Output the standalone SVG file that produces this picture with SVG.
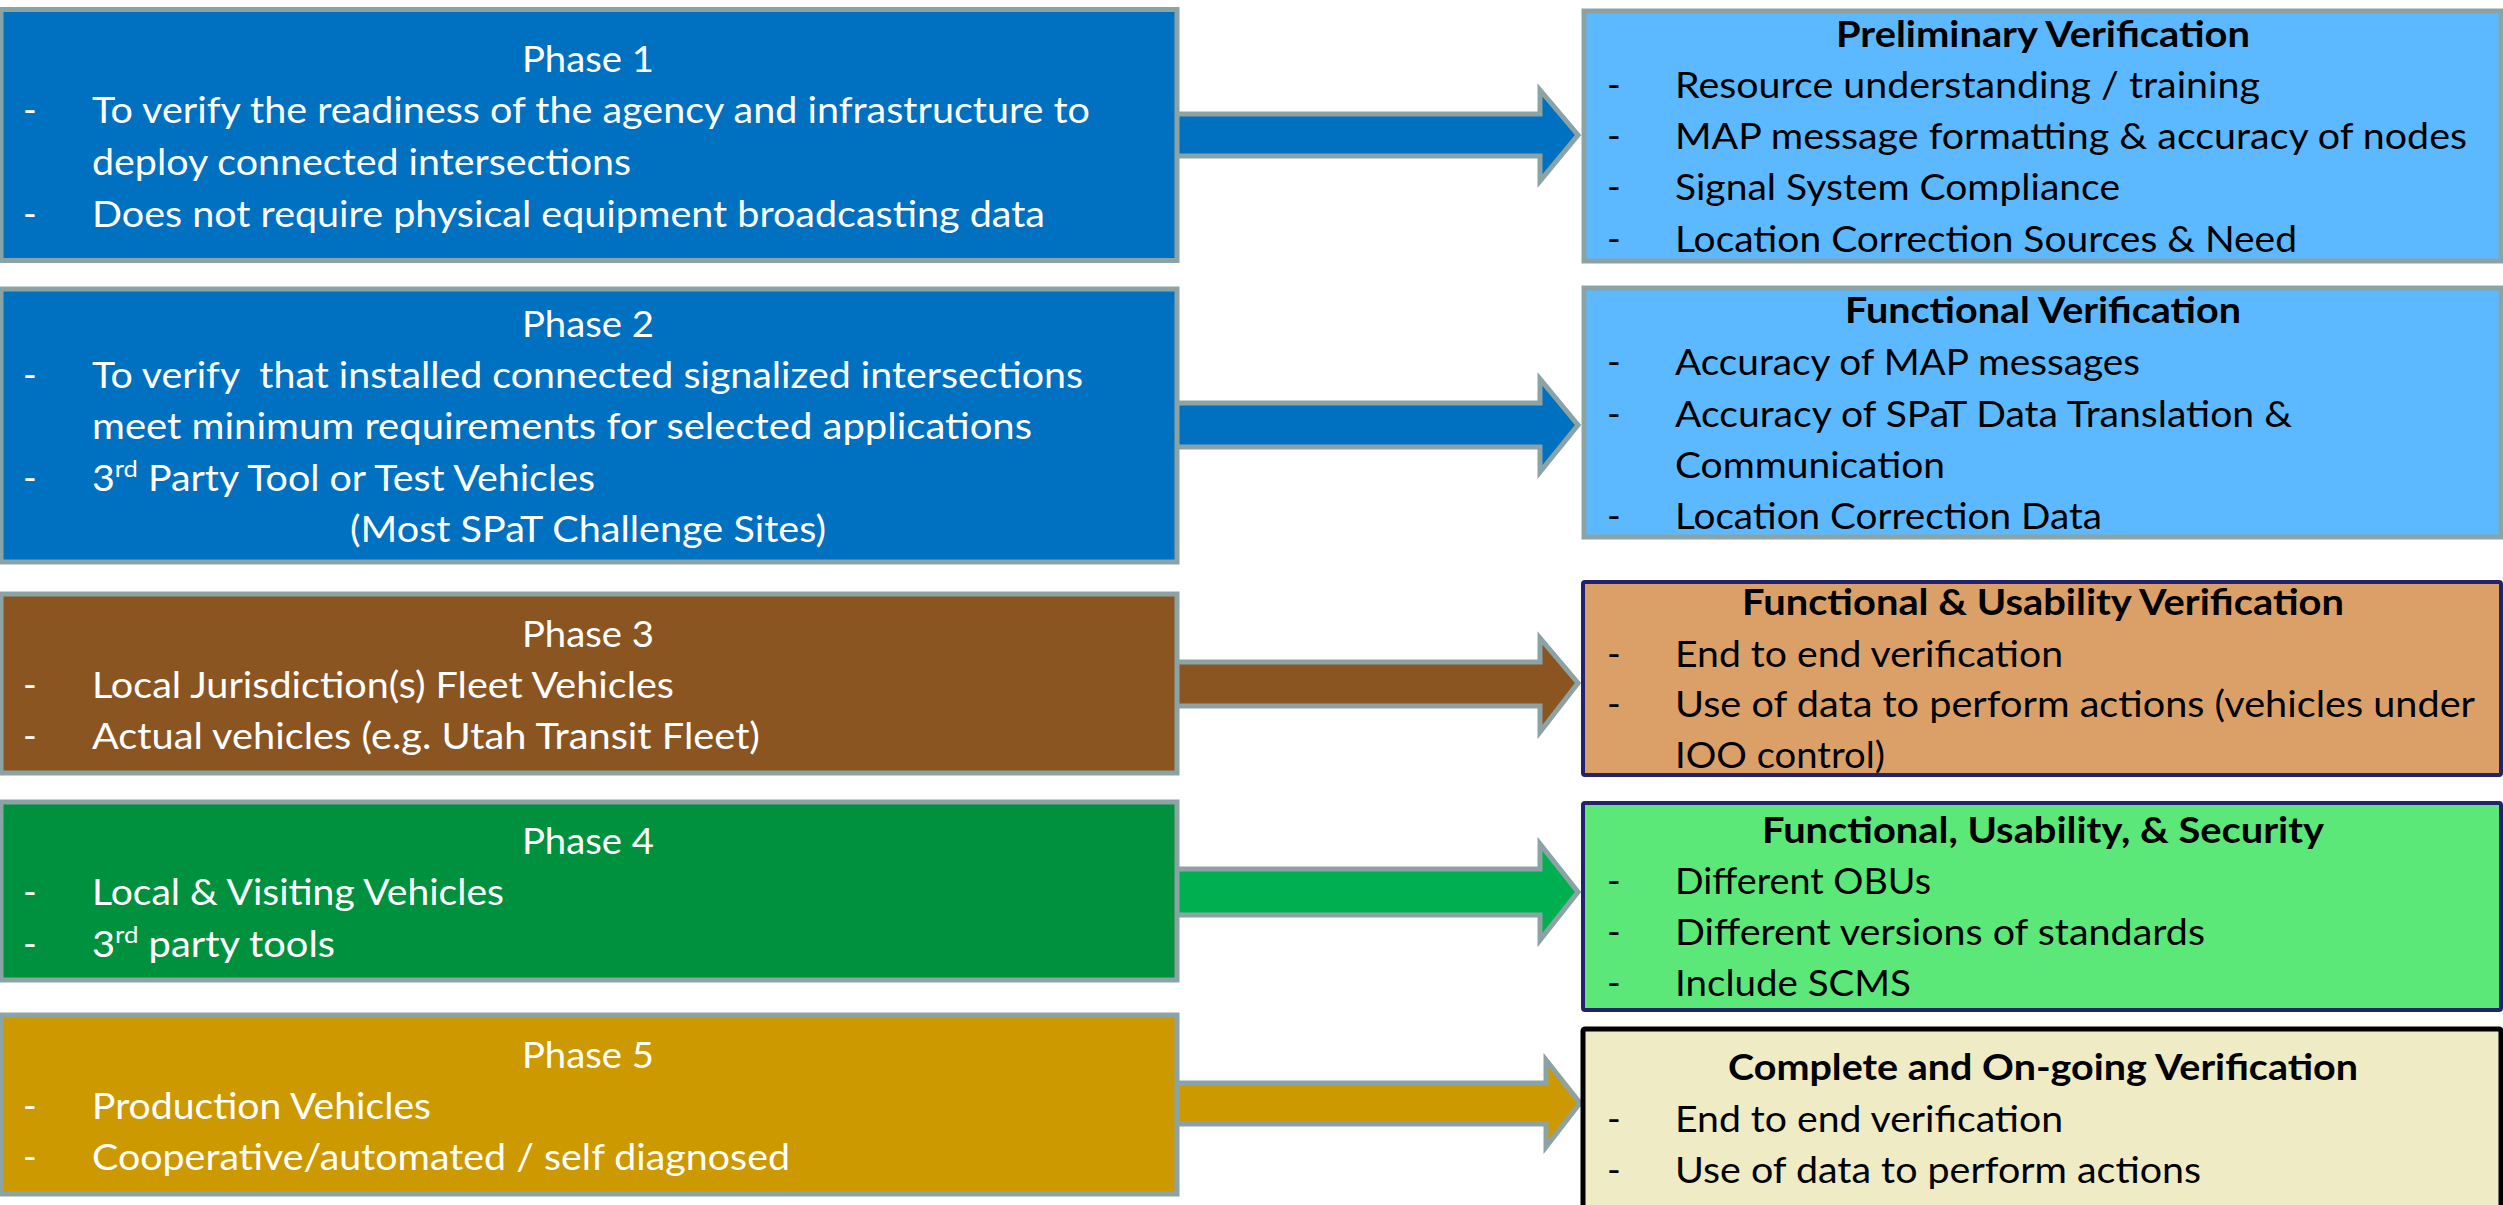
<svg xmlns="http://www.w3.org/2000/svg" width="2503" height="1205" viewBox="0 0 2503 1205">
<style>
text{font-family:Lato,"Liberation Sans",sans-serif;font-size:37px}
.w{fill:#fff}
.k{fill:#000}
.t{font-weight:bold}
.c{text-anchor:middle}
.lb{stroke:#8CA3A5;stroke-width:5}
.arr{stroke:#8CA3A5;stroke-width:5;stroke-linejoin:miter}
</style>
<rect width="2503" height="1205" fill="#fff"/>
<g id="connectors">
<polygon class="arr" fill="#0070C0" points="1170,114 1540,114 1540,90 1578,135 1540,181 1540,156 1170,156"/>
<polygon class="arr" fill="#0070C0" points="1170,403 1540,403 1540,379 1578,425 1540,472 1540,447 1170,447"/>
<polygon class="arr" fill="#8B5522" points="1170,662 1540,662 1540,638 1578,683 1540,732 1540,706 1170,706"/>
<polygon class="arr" fill="#00B050" points="1170,869 1540,869 1540,844 1578,892 1540,940 1540,915 1170,915"/>
<polygon class="arr" fill="#CC9900" points="1170,1083 1546,1083 1546,1060 1580,1103 1546,1147 1546,1124 1170,1124"/>
</g>
<g id="phase1">
<rect class="lb" x="1" y="9.5" width="1176" height="251" fill="#0070C0"/>
<text class="w c" x="588" y="72" textLength="132" lengthAdjust="spacingAndGlyphs">Phase 1</text>
<text class="w" x="23" y="123">-</text>
<text class="w" x="92" y="123" textLength="998" lengthAdjust="spacingAndGlyphs">To verify the readiness of the agency and infrastructure to</text>
<text class="w" x="92" y="175" textLength="539" lengthAdjust="spacingAndGlyphs">deploy connected intersections</text>
<text class="w" x="23" y="227">-</text>
<text class="w" x="92" y="227" textLength="953" lengthAdjust="spacingAndGlyphs">Does not require physical equipment broadcasting data</text>
</g>
<g id="phase2">
<rect class="lb" x="1" y="289" width="1176" height="273" fill="#0070C0"/>
<text class="w c" x="588" y="337" textLength="132" lengthAdjust="spacingAndGlyphs">Phase 2</text>
<text class="w" x="23" y="388">-</text>
<text class="w" x="92" y="388" style="white-space:pre" textLength="991" lengthAdjust="spacingAndGlyphs">To verify  that installed connected signalized intersections</text>
<text class="w" x="92" y="439" textLength="940" lengthAdjust="spacingAndGlyphs">meet minimum requirements for selected applications</text>
<text class="w" x="23" y="491">-</text>
<text class="w" x="92" y="491" textLength="503" lengthAdjust="spacingAndGlyphs">3<tspan font-size="24" dy="-14">rd</tspan><tspan dy="14"> Party Tool or Test Vehicles</tspan></text>
<text class="w c" x="588" y="542" textLength="476" lengthAdjust="spacingAndGlyphs">(Most SPaT Challenge Sites)</text>
</g>
<g id="phase3">
<rect class="lb" x="1" y="594" width="1176" height="179" fill="#8B5522"/>
<text class="w c" x="588" y="647" textLength="132" lengthAdjust="spacingAndGlyphs">Phase 3</text>
<text class="w" x="23" y="698">-</text>
<text class="w" x="92" y="698" textLength="582" lengthAdjust="spacingAndGlyphs">Local Jurisdiction(s) Fleet Vehicles</text>
<text class="w" x="23" y="749">-</text>
<text class="w" x="92" y="749" textLength="668" lengthAdjust="spacingAndGlyphs">Actual vehicles (e.g. Utah Transit Fleet)</text>
</g>
<g id="phase4">
<rect class="lb" x="1" y="802" width="1176" height="178" fill="#00913F"/>
<text class="w c" x="588" y="854" textLength="132" lengthAdjust="spacingAndGlyphs">Phase 4</text>
<text class="w" x="23" y="905">-</text>
<text class="w" x="92" y="905" textLength="412" lengthAdjust="spacingAndGlyphs">Local &amp; Visiting Vehicles</text>
<text class="w" x="23" y="957">-</text>
<text class="w" x="92" y="957" textLength="243" lengthAdjust="spacingAndGlyphs">3<tspan font-size="24" dy="-14">rd</tspan><tspan dy="14"> party tools</tspan></text>
</g>
<g id="phase5">
<rect class="lb" x="1" y="1015" width="1176" height="179" fill="#CC9900"/>
<text class="w c" x="588" y="1068" textLength="132" lengthAdjust="spacingAndGlyphs">Phase 5</text>
<text class="w" x="23" y="1119">-</text>
<text class="w" x="92" y="1119" textLength="339" lengthAdjust="spacingAndGlyphs">Production Vehicles</text>
<text class="w" x="23" y="1170">-</text>
<text class="w" x="92" y="1170" textLength="698" lengthAdjust="spacingAndGlyphs">Cooperative/automated / self diagnosed</text>
</g>
<g id="verify1">
<rect class="lb" x="1584" y="11" width="917" height="250" fill="#5DB9FF"/>
<text class="k t c" x="2043" y="47" textLength="414" lengthAdjust="spacingAndGlyphs">Preliminary Verification</text>
<text class="k" x="1607" y="98">-</text>
<text class="k" x="1675" y="98" textLength="585" lengthAdjust="spacingAndGlyphs">Resource understanding / training</text>
<text class="k" x="1607" y="149">-</text>
<text class="k" x="1675" y="149" textLength="792" lengthAdjust="spacingAndGlyphs">MAP message formatting &amp; accuracy of nodes</text>
<text class="k" x="1607" y="200">-</text>
<text class="k" x="1675" y="200" textLength="445" lengthAdjust="spacingAndGlyphs">Signal System Compliance</text>
<text class="k" x="1607" y="252">-</text>
<text class="k" x="1675" y="252" textLength="622" lengthAdjust="spacingAndGlyphs">Location Correction Sources &amp; Need</text>
</g>
<g id="verify2">
<rect class="lb" x="1584" y="288" width="917" height="249" fill="#5DB9FF"/>
<text class="k t c" x="2043" y="323" textLength="396" lengthAdjust="spacingAndGlyphs">Functional Verification</text>
<text class="k" x="1607" y="375">-</text>
<text class="k" x="1675" y="375" textLength="465" lengthAdjust="spacingAndGlyphs">Accuracy of MAP messages</text>
<text class="k" x="1607" y="427">-</text>
<text class="k" x="1675" y="427" textLength="617" lengthAdjust="spacingAndGlyphs">Accuracy of SPaT Data Translation &amp;</text>
<text class="k" x="1675" y="478" textLength="270" lengthAdjust="spacingAndGlyphs">Communication</text>
<text class="k" x="1607" y="529">-</text>
<text class="k" x="1675" y="529" textLength="427" lengthAdjust="spacingAndGlyphs">Location Correction Data</text>
</g>
<g id="verify3">
<rect x="1583" y="582" width="918" height="193" fill="#DBA068" stroke="#23236B" stroke-width="4" rx="2"/>
<text class="k t c" x="2043" y="615" textLength="602" lengthAdjust="spacingAndGlyphs">Functional &amp; Usability Verification</text>
<text class="k" x="1607" y="667">-</text>
<text class="k" x="1675" y="667" textLength="388" lengthAdjust="spacingAndGlyphs">End to end verification</text>
<text class="k" x="1607" y="717">-</text>
<text class="k" x="1675" y="717" textLength="800" lengthAdjust="spacingAndGlyphs">Use of data to perform actions (vehicles under</text>
<text class="k" x="1675" y="768" textLength="210" lengthAdjust="spacingAndGlyphs">IOO control)</text>
</g>
<g id="verify4">
<rect x="1583" y="803" width="918" height="207" fill="#5CE878" stroke="#23236B" stroke-width="4" rx="2"/>
<text class="k t c" x="2043" y="843" textLength="562" lengthAdjust="spacingAndGlyphs">Functional, Usability, &amp; Security</text>
<text class="k" x="1607" y="894">-</text>
<text class="k" x="1675" y="894" textLength="256" lengthAdjust="spacingAndGlyphs">Different OBUs</text>
<text class="k" x="1607" y="945">-</text>
<text class="k" x="1675" y="945" textLength="530" lengthAdjust="spacingAndGlyphs">Different versions of standards</text>
<text class="k" x="1607" y="996">-</text>
<text class="k" x="1675" y="996" textLength="236" lengthAdjust="spacingAndGlyphs">Include SCMS</text>
</g>
<g id="verify5">
<rect x="1583" y="1029" width="918" height="200" fill="#EFEBC5" stroke="#000" stroke-width="5" rx="2"/>
<text class="k t c" x="2043" y="1080" textLength="630" lengthAdjust="spacingAndGlyphs">Complete and On-going Verification</text>
<text class="k" x="1607" y="1132">-</text>
<text class="k" x="1675" y="1132" textLength="388" lengthAdjust="spacingAndGlyphs">End to end verification</text>
<text class="k" x="1607" y="1183">-</text>
<text class="k" x="1675" y="1183" textLength="526" lengthAdjust="spacingAndGlyphs">Use of data to perform actions</text>
</g>
</svg>
